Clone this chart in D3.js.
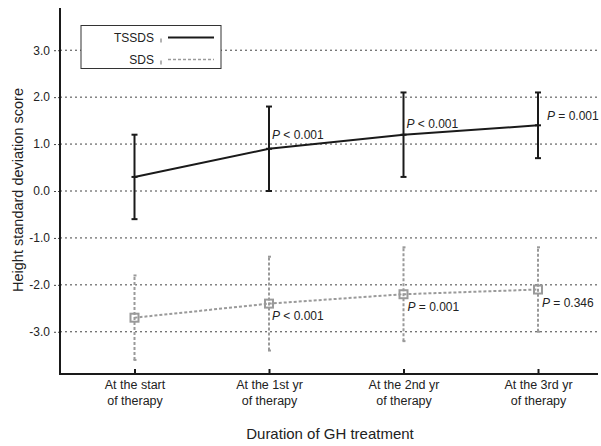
<!DOCTYPE html>
<html><head><meta charset="utf-8">
<script src="https://cdn.jsdelivr.net/npm/d3@7"></script>
<style>
body{margin:0;background:#fff;}
text{font-family:Arial,"Liberation Sans",Helvetica,sans-serif;fill:#222;}
</style></head>
<body><svg id="c" width="601" height="446"></svg>
<script>
const categories = ["start","yr1","yr2","yr3"];
const categoryLines = [["At the start","of therapy"],["At the 1st yr","of therapy"],["At the 2nd yr","of therapy"],["At the 3rd yr","of therapy"]];
const tssdsMean = [0.3, 0.9, 1.2, 1.4];
const tssdsLow  = [-0.6, 0.0, 0.3, 0.7];
const tssdsHigh = [1.2, 1.8, 2.1, 2.1];
const sdsMean = [-2.7, -2.4, -2.2, -2.1];
const sdsLow  = [-3.6, -3.4, -3.2, -3.0];
const sdsHigh = [-1.8, -1.4, -1.2, -1.2];
const tssdsP = [null, ["<","0.001"], ["<","0.001"], ["=","0.001"]];
const sdsP   = [null, ["<","0.001"], ["=","0.001"], ["=","0.346"]];
const yTicks = [-3, -2, -1, 0, 1, 2, 3];
const yTickLabels = ["-3.0","-2.0","-1.0","0.0","1.0","2.0","3.0"];
const legendLabels = ["TSSDS","SDS"];

const svg = d3.select("#c");
const L = 60, R = 598, T = 8, B = 374;
const y = d3.scaleLinear().domain([-3.9, 3.9]).range([B, T]);
const x = d3.scalePoint().domain(categories).range([134.5, 538]);

const GRAY = "#9a9a9a", BLACK = "#1a1a1a";

// gridlines
svg.append("g").selectAll("line").data(yTicks).join("line")
  .attr("x1", L).attr("x2", R).attr("y1", d => y(d)).attr("y2", d => y(d))
  .attr("stroke", "#444").attr("stroke-width", 1).attr("stroke-dasharray", "2,3");

// y axis
const ya = svg.append("g").attr("transform", `translate(${L},0)`)
  .call(d3.axisLeft(y).tickValues(yTicks).tickSize(8).tickPadding(2)
    .tickFormat((d,i) => yTickLabels[yTicks.indexOf(d)]));
ya.select(".domain").remove();
ya.selectAll(".tick line").attr("stroke", "#444").attr("stroke-dasharray", "2,2");
ya.selectAll(".tick text").style("font-size", "12px").attr("fill", "#333");

// x axis
const xa = svg.append("g").attr("transform", `translate(0,${B})`)
  .call(d3.axisBottom(x).tickSize(-5).tickFormat(""));
xa.select(".domain").remove();
xa.selectAll(".tick line").attr("stroke", BLACK).attr("stroke-width", 2);
xa.selectAll(".tick").each(function(d, i) {
  const t = d3.select(this).append("text").attr("text-anchor", "middle")
    .style("font-size", "12.5px").attr("fill", "#333");
  categoryLines[i].forEach((s, j) => t.append("tspan").attr("x", 0).attr("y", 15 + j * 16).text(s));
});

// axis lines
svg.append("line").attr("x1", L).attr("x2", L).attr("y1", T).attr("y2", B + 1)
  .attr("stroke", BLACK).attr("stroke-width", 2);
svg.append("line").attr("x1", L - 1).attr("x2", R).attr("y1", B).attr("y2", B)
  .attr("stroke", BLACK).attr("stroke-width", 2);

// SDS series
const sds = svg.append("g");
sds.selectAll("line.eb").data(categories).join("line").attr("class","eb")
  .attr("x1", d => x(d)).attr("x2", d => x(d))
  .attr("y1", (d,i) => y(sdsLow[i])).attr("y2", (d,i) => y(sdsHigh[i]))
  .attr("stroke", GRAY).attr("stroke-width", 2).attr("stroke-dasharray", "3,2");
[sdsLow, sdsHigh].forEach(arr => {
  sds.append("g").selectAll("line").data(categories).join("line")
    .attr("x1", d => x(d) - 1).attr("x2", d => x(d) + 2)
    .attr("y1", (d,i) => y(arr[i])).attr("y2", (d,i) => y(arr[i]))
    .attr("stroke", GRAY).attr("stroke-width", 2);
});
const lineGen = d3.line().x((d,i) => x(categories[i])).y(d => y(d)).curve(d3.curveLinear);
sds.append("path").datum(sdsMean).attr("d", lineGen).attr("fill", "none")
  .attr("stroke", GRAY).attr("stroke-width", 2).attr("stroke-dasharray", "3,2");
sds.selectAll("rect").data(categories).join("rect")
  .attr("x", d => x(d) - 4).attr("y", (d,i) => y(sdsMean[i]) - 4)
  .attr("width", 8).attr("height", 8).attr("fill", "none")
  .attr("stroke", GRAY).attr("stroke-width", 2);

// TSSDS series
const ts = svg.append("g");
ts.selectAll("line.eb").data(categories).join("line").attr("class","eb")
  .attr("x1", d => x(d)).attr("x2", d => x(d))
  .attr("y1", (d,i) => y(tssdsLow[i])).attr("y2", (d,i) => y(tssdsHigh[i]))
  .attr("stroke", BLACK).attr("stroke-width", 2);
[tssdsLow, tssdsHigh].forEach(arr => {
  ts.append("g").selectAll("line").data(categories).join("line")
    .attr("x1", d => x(d) - 3).attr("x2", d => x(d) + 3)
    .attr("y1", (d,i) => y(arr[i])).attr("y2", (d,i) => y(arr[i]))
    .attr("stroke", BLACK).attr("stroke-width", 2);
});
ts.append("path").datum(tssdsMean).attr("d", lineGen).attr("fill", "none")
  .attr("stroke", BLACK).attr("stroke-width", 2);
ts.selectAll("line.pt").data(categories).join("line").attr("class","pt")
  .attr("x1", d => x(d) - 3).attr("x2", d => x(d) + 3)
  .attr("y1", (d,i) => y(tssdsMean[i])).attr("y2", (d,i) => y(tssdsMean[i]))
  .attr("stroke", BLACK).attr("stroke-width", 2);

// P annotations
function pText(cat, val, p, dx, dy) {
  const t = svg.append("text").attr("x", x(cat) + dx).attr("y", y(val) + dy)
    .style("font-size", "12px").attr("fill", "#333");
  t.append("tspan").style("font-style", "italic").text("P");
  t.append("tspan").text(" " + p[0] + " " + p[1]);
}
const tsOff = [null, [3, -10], [3, -7], [9, -5]];
const sdOff = [null, [3, 16], [4, 17], [4, 17]];
categories.forEach((c, i) => {
  if (tssdsP[i]) pText(c, tssdsMean[i], tssdsP[i], tsOff[i][0], tsOff[i][1]);
  if (sdsP[i]) pText(c, sdsMean[i], sdsP[i], sdOff[i][0], sdOff[i][1]);
});

// legend
const lg = svg.append("g");
lg.append("rect").attr("x", 81).attr("y", 25.5).attr("width", 140).attr("height", 43)
  .attr("fill", "#fff").attr("stroke", "#333").attr("stroke-width", 1);
const rowsY = [37.5, 59.5];
legendLabels.forEach((lab, i) => {
  lg.append("text").attr("x", 154).attr("y", rowsY[i] + 4).attr("text-anchor", "end")
    .style("font-size", "12px").attr("fill", "#333").text(lab);
  lg.append("line").attr("x1", 161).attr("x2", 161).attr("y1", rowsY[i] + 1).attr("y2", rowsY[i] + 5)
    .attr("stroke", "#666").attr("stroke-width", 1);
  lg.append("line").attr("x1", 168).attr("x2", 214).attr("y1", rowsY[i]).attr("y2", rowsY[i])
    .attr("stroke", i === 0 ? BLACK : GRAY).attr("stroke-width", i === 0 ? 2 : 1.5)
    .attr("stroke-dasharray", i === 0 ? null : "3,2");
});

// axis titles
svg.append("text").attr("x", 330).attr("y", 439).attr("text-anchor", "middle")
  .style("font-size", "15px").attr("fill", "#333").text("Duration of GH treatment");
svg.append("text").attr("transform", "translate(23,190) rotate(-90)").attr("text-anchor", "middle")
  .style("font-size", "14.5px").attr("fill", "#333").text("Height standard deviation score");
</script></body></html>
